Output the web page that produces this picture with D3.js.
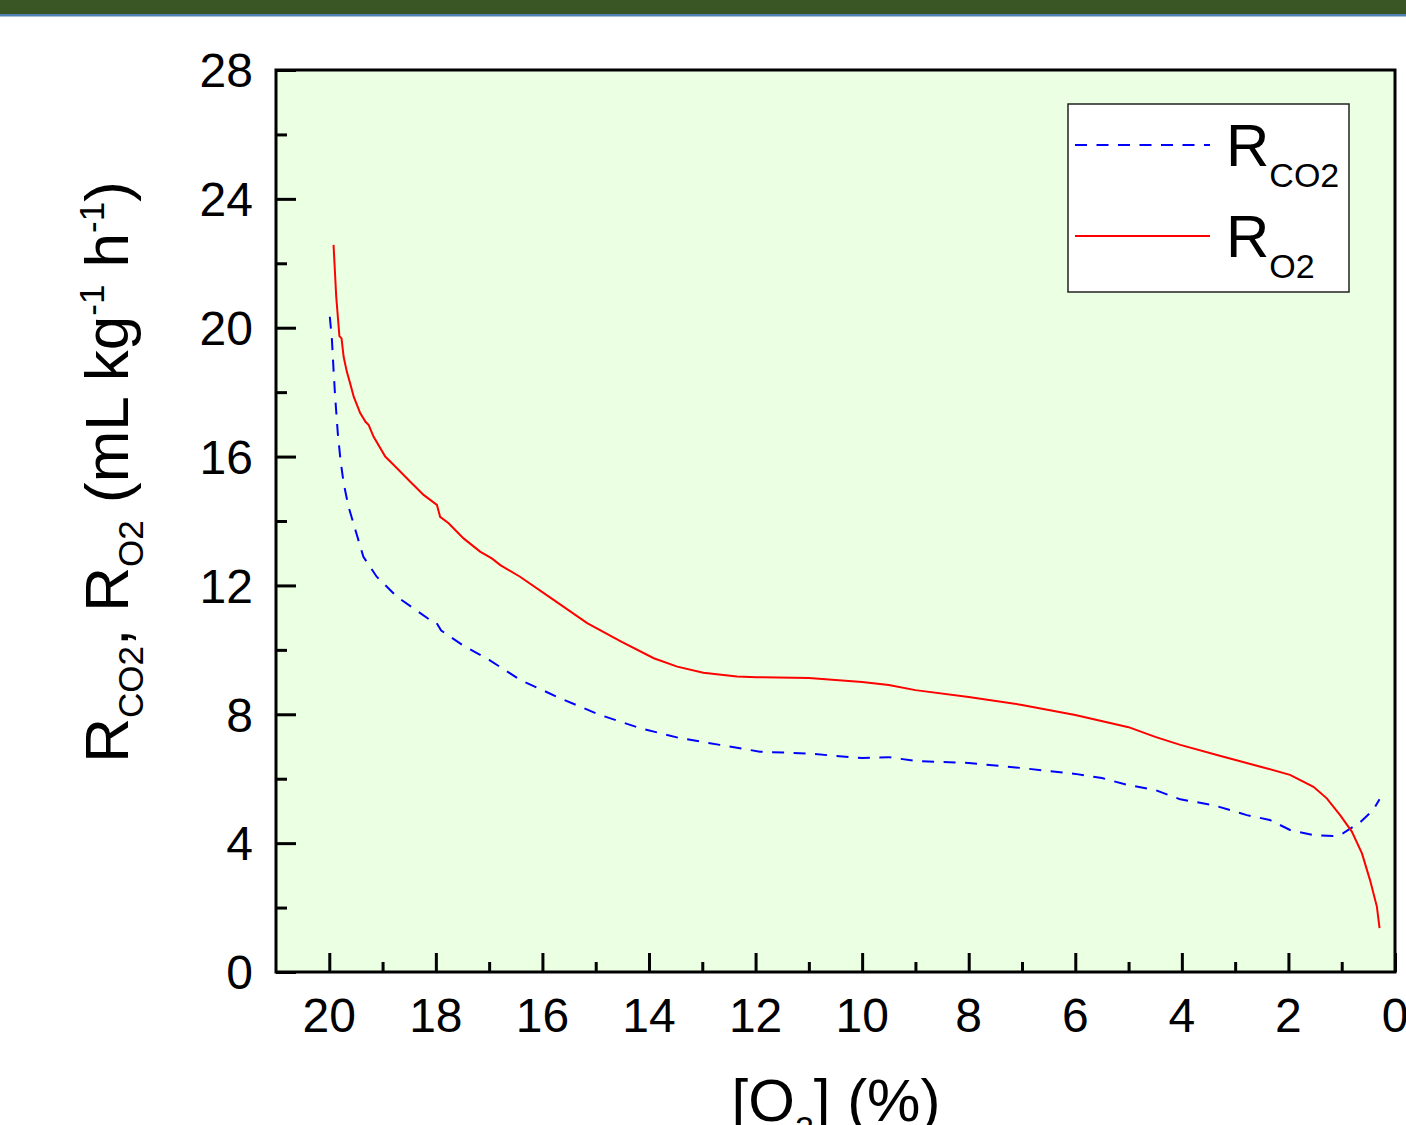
<!DOCTYPE html>
<html>
<head>
<meta charset="utf-8">
<script src="https://cdn.jsdelivr.net/npm/d3@7"></script>
<style>
  body { margin: 0; background: #fff; }
  svg { display: block; font-family: "Liberation Sans", Arial, sans-serif; }
</style>
</head>
<body>
<div class="chart"></div>
<script>
// Data: [O2] (%) and rate (mL kg-1 h-1)
var o2X = [19.92, 19.87, 19.81, 19.77, 19.73, 19.67, 19.61, 19.54, 19.42, 19.32, 19.26, 19.17,
  18.95, 18.79, 18.48, 18.23, 17.98, 17.92, 17.76, 17.48, 17.17, 16.95, 16.79, 16.42, 15.79,
  15.16, 14.53, 13.91, 13.47, 12.98, 12.35, 11.98, 11.0, 10.0, 9.5, 9.0, 8.0, 7.0, 6.0, 5.0,
  4.5, 4.03, 3.22, 2.47, 1.97, 1.53, 1.28, 1.03, 0.81, 0.62, 0.47, 0.34, 0.29];
var o2Y = [22.57, 20.97, 19.74, 19.67, 19.09, 18.63, 18.28, 17.85, 17.35, 17.08, 16.98, 16.62,
  16.00, 15.74, 15.22, 14.81, 14.50, 14.13, 13.93, 13.46, 13.05, 12.84, 12.63, 12.27, 11.55,
  10.83, 10.26, 9.74, 9.48, 9.29, 9.17, 9.15, 9.13, 9.0, 8.91, 8.75, 8.54, 8.29, 7.98, 7.6,
  7.3, 7.05, 6.68, 6.35, 6.12, 5.75, 5.39, 4.87, 4.36, 3.68, 2.86, 2.03, 1.36];

var co2X = [19.99, 19.95, 19.92, 19.89, 19.84, 19.79, 19.73, 19.64, 19.51, 19.36, 19.11, 18.73,
  18.11, 18.0, 17.9, 17.5, 17.0, 16.42, 15.67, 14.92, 14.17, 13.42, 12.67, 11.92, 11.0, 10.0,
  9.5, 9.0, 8.0, 7.0, 6.0, 5.5, 5.0, 4.5, 4.03, 3.41, 2.78, 2.35, 1.97, 1.53, 1.16, 0.97,
  0.66, 0.41, 0.29];
var co2Y = [20.34, 19.62, 18.69, 17.86, 16.72, 15.9, 15.17, 14.45, 13.72, 12.89, 12.27, 11.65,
  10.93, 10.87, 10.6, 10.15, 9.69, 9.07, 8.50, 7.98, 7.57, 7.26, 7.05, 6.84, 6.78, 6.64,
  6.67, 6.55, 6.49, 6.33, 6.15, 6.02, 5.8, 5.65, 5.36, 5.18, 4.87, 4.72, 4.41, 4.25, 4.22,
  4.31, 4.64, 5.03, 5.36];

var xTicks = [20, 18, 16, 14, 12, 10, 8, 6, 4, 2, 0];
var yTicks = [0, 4, 8, 12, 16, 20, 24, 28];

var width = 1406, height = 1125;

var svg = d3.select(".chart").append("svg")
  .attr("width", width)
  .attr("height", height);

// header band
svg.append("rect").attr("x", 0).attr("y", 0).attr("width", width).attr("height", 14).attr("fill", "#3a5624");
svg.append("rect").attr("x", 0).attr("y", 14).attr("width", width).attr("height", 2.5).attr("fill", "#4f81b3");

var x = d3.scaleLinear().domain([21, 0]).range([276, 1395]);
var y = d3.scaleLinear().domain([0, 28]).range([972, 70]);

// plot background
svg.append("rect")
  .attr("x", x(21)).attr("y", y(28))
  .attr("width", x(0) - x(21)).attr("height", y(0) - y(28))
  .attr("fill", "#ebffe2");

// curves
var line = d3.line()
  .x(function(d) { return x(d[0]); })
  .y(function(d) { return y(d[1]); });

svg.append("path")
  .datum(d3.zip(co2X, co2Y))
  .attr("fill", "none")
  .attr("stroke", "#0000ff")
  .attr("stroke-width", 2)
  .attr("stroke-dasharray", "12,9.5")
  .attr("d", line);

svg.append("path")
  .datum(d3.zip(o2X, o2Y))
  .attr("fill", "none")
  .attr("stroke", "#ff0000")
  .attr("stroke-width", 2)
  .attr("d", line);

// axes, ticks pointing inward
var xAxis = d3.axisBottom(x)
  .tickValues(d3.range(0, 21, 1))
  .tickSize(-10)
  .tickFormat("");
var yAxis = d3.axisLeft(y)
  .tickValues(d3.range(0, 29, 2))
  .tickSize(-10)
  .tickFormat("");

var gx = svg.append("g").attr("transform", "translate(0," + y(0) + ")").call(xAxis);
var gy = svg.append("g").attr("transform", "translate(" + x(21) + ",0)").call(yAxis);

gx.selectAll(".tick line")
  .attr("y2", function(d) { return d % 2 === 0 ? -19 : -10; });
gy.selectAll(".tick line")
  .attr("x2", function(d) { return d % 4 === 0 ? 20 : 11; });

[gx, gy].forEach(function(g) {
  g.select(".domain").remove();
  g.selectAll(".tick line").attr("stroke", "#000").attr("stroke-width", 3);
});

// frame
svg.append("rect")
  .attr("x", x(21)).attr("y", y(28))
  .attr("width", x(0) - x(21)).attr("height", y(0) - y(28))
  .attr("fill", "none")
  .attr("stroke", "#000")
  .attr("stroke-width", 3);

// tick labels
svg.selectAll("text.xl")
  .data(xTicks)
  .enter().append("text")
  .attr("class", "xl")
  .attr("x", function(d) { return x(d); })
  .attr("y", 1032)
  .attr("text-anchor", "middle")
  .attr("font-size", 48)
  .text(function(d) { return d; });

svg.selectAll("text.yl")
  .data(yTicks)
  .enter().append("text")
  .attr("class", "yl")
  .attr("x", 253)
  .attr("y", function(d) { return y(d); })
  .attr("dy", "0.36em")
  .attr("text-anchor", "end")
  .attr("font-size", 48)
  .text(function(d) { return d; });

// axis titles
var xt = svg.append("text")
  .attr("x", 836).attr("y", 1121)
  .attr("text-anchor", "middle")
  .attr("font-size", 60);
xt.append("tspan").text("[O");
xt.append("tspan").attr("font-size", 34).attr("dy", 19).text("2");
xt.append("tspan").attr("dy", -19).text("] (%)");

var yt = svg.append("text")
  .attr("transform", "translate(128,472) rotate(-90)")
  .attr("text-anchor", "middle")
  .attr("font-size", 62);
yt.append("tspan").text("R");
yt.append("tspan").attr("font-size", 35).attr("dy", 15).text("CO2");
yt.append("tspan").attr("dy", -15).text(", R");
yt.append("tspan").attr("font-size", 35).attr("dy", 15).text("O2");
yt.append("tspan").attr("dy", -15).text(" (mL kg");
yt.append("tspan").attr("font-size", 35).attr("dy", -24).text("-1");
yt.append("tspan").attr("dy", 24).text(" h");
yt.append("tspan").attr("font-size", 35).attr("dy", -24).text("-1");
yt.append("tspan").attr("dy", 24).text(")");

// legend
var legend = svg.append("g");
legend.append("rect")
  .attr("x", 1068).attr("y", 104)
  .attr("width", 281).attr("height", 188)
  .attr("fill", "#fff")
  .attr("stroke", "#222")
  .attr("stroke-width", 1.5);

var legItems = [
  { sub: "CO2", color: "#0000ff", dash: "12,9.5", ly: 145, ty: 166 },
  { sub: "O2", color: "#ff0000", dash: null, ly: 236, ty: 257 }
];
legItems.forEach(function(d) {
  legend.append("line")
    .attr("x1", 1075).attr("x2", 1210)
    .attr("y1", d.ly).attr("y2", d.ly)
    .attr("stroke", d.color)
    .attr("stroke-width", 2)
    .attr("stroke-dasharray", d.dash);
  var t = legend.append("text")
    .attr("x", 1226).attr("y", d.ty)
    .attr("font-size", 60);
  t.append("tspan").text("R");
  t.append("tspan").attr("font-size", 34).attr("dy", 21).text(d.sub);
});
</script>
</body>
</html>
